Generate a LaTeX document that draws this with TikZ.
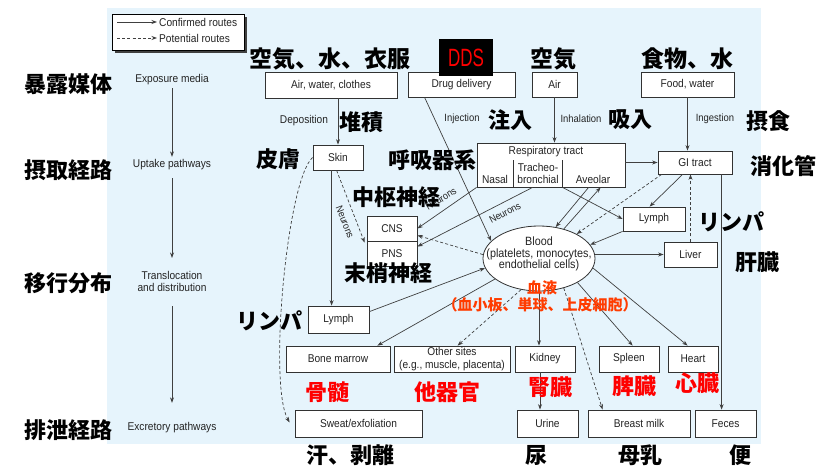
\documentclass[tikz,border=0pt]{standalone}
\usepackage{fontspec}
\setmainfont{Liberation Sans}
\newfontfamily\cond{Liberation Sans}[FakeStretch=0.9]
\newfontfamily\ddsf{Liberation Sans}[FakeStretch=0.68]
\newfontfamily\cjk{Noto Sans CJK JP}
\usetikzlibrary{arrows.meta,calc,shapes.geometric}
\definecolor{bgblue}{RGB}{230,244,252}
\definecolor{ln}{RGB}{64,64,64}
\definecolor{bx}{RGB}{50,50,50}
\definecolor{txt}{RGB}{35,35,35}
\definecolor{redj}{RGB}{255,0,0}
\definecolor{orj}{RGB}{255,60,0}
\tikzset{
  box/.style={draw=bx, line width=0.8pt, fill=white, inner sep=0pt, align=center,
    font=\cond\fontsize{11.3}{12}\selectfont, text=txt},
  lbl/.style={inner sep=0pt, align=center, font=\cond\fontsize{11.3}{12}\selectfont, text=txt},
  slbl/.style={lbl, font=\cond\fontsize{10.5}{11}\selectfont},
  neur/.style={inner sep=0pt, font=\cond\fontsize{10}{11}\selectfont, text=txt},
  jp/.style={inner sep=0pt, font=\cjk\bfseries\fontsize{22}{23}\selectfont, text=black},
  jptop/.style={jp, font=\cjk\bfseries\fontsize{23}{24}\selectfont},
  jpred/.style={jp, text=redj},
  jpblood/.style={inner sep=0pt, font=\cjk\bfseries\fontsize{15}{16}\selectfont, text=orj},
  conn/.style={draw=ln, line width=0.7pt, -{Stealth[length=5.5pt,width=4pt]}},
  pconn/.style={conn, dash pattern=on 3pt off 2.2pt},
  divline/.style={draw=bx, line width=0.8pt},
}
\begin{document}
\begin{tikzpicture}[x=1pt,y=-1pt]
\useasboundingbox (0,0) rectangle (836,466);
\fill[white] (0,0) rectangle (836,466);
\fill[bgblue] (107,8) rectangle (761,444);

% legend
\fill[black!75] (114.5,16.5) rectangle (246.5,52.5);
\node[draw=black, line width=1pt, fill=white, minimum width=132pt, minimum height=36pt, inner sep=0pt] (leg) at (178,32) {};
\coordinate (lga) at (117,22); \coordinate (lgb) at (157,22);
\coordinate (lgc) at (117,38); \coordinate (lgd) at (157,38);
\draw[conn] (lga) -- (lgb);
\draw[pconn] (lgc) -- (lgd);
\node[lbl, anchor=west] (lgt1) at (159,22) {Confirmed routes};
\node[lbl, anchor=west] (lgt2) at (159,38) {Potential routes};

% left column
\node[jp] (j1) at (68,84) {暴露媒体};
\node[jp] (j2) at (68,170) {摂取経路};
\node[jp] (j3) at (68,283) {移行分布};
\node[jp] (j4) at (68,430) {排泄経路};
\node[lbl] (expo) at (172,80) {Exposure media};
\node[lbl] (upt) at (172,165) {Uptake pathways};
\node[lbl] (trans) at (172,281) {Translocation\\and distribution};
\node[lbl] (excr) at (172,428) {Excretory pathways};
\draw[conn, shorten <=2.7pt, shorten >=2.7pt] (expo) -- (upt);
\draw[conn, shorten <=7.7pt, shorten >=12.7pt] (upt) -- (trans);
\draw[conn, shorten <=14.7pt, shorten >=19.7pt] (trans) -- (excr);

% boxes
\node[box, minimum width=132pt, minimum height=26pt] (acw) at (331,85) {Air, water, clothes};
\node[box, minimum width=107pt, minimum height=25pt] (drug) at (461.5,84.5) {Drug delivery};
\node[box, minimum width=45pt, minimum height=25pt] (air) at (554.5,84.5) {Air};
\node[box, minimum width=93pt, minimum height=25pt] (food) at (687.5,84.5) {Food, water};
\node[box, minimum width=50pt, minimum height=25pt] (skin) at (338,157.5) {Skin};
\node[box, minimum width=148pt, minimum height=44pt] (resp) at (551,165) {};
\node[box, minimum width=74pt, minimum height=23pt] (gi) at (695,162.5) {GI tract};
\node[box, minimum width=50pt, minimum height=25pt] (cns) at (392,228.5) {CNS};
\node[box, minimum width=50pt, minimum height=25pt] (pns) at (392,253.5) {PNS};
\node[box, minimum width=62pt, minimum height=24pt] (lymU) at (654,219) {Lymph};
\node[box, minimum width=53pt, minimum height=25pt] (liver) at (690.5,254.5) {Liver};
\node[ellipse, draw=bx, line width=0.8pt, fill=white, minimum width=112pt, minimum height=65pt, inner sep=0pt] (blood) at (539,258.5) {};
\node[lbl, font=\cond\fontsize{12}{11.5}\selectfont] (bloodtxt) at (539,254) {Blood\\(platelets, monocytes,\\endothelial cells)};
\node[box, minimum width=61pt, minimum height=27pt] (lymL) at (338.5,319.5) {Lymph};
\node[box, minimum width=104pt, minimum height=26pt] (bm) at (338,359) {Bone marrow};
\node[box, minimum width=116pt, minimum height=26pt, font=\cond\fontsize{11.3}{12.5}\selectfont] (oth) at (452,359) {Other sites\\(e.g., muscle, placenta)};
\node[box, minimum width=60pt, minimum height=26pt] (kid) at (545,359) {Kidney};
\node[box, minimum width=60pt, minimum height=26pt] (spl) at (629,359) {Spleen};
\node[box, minimum width=50pt, minimum height=26pt] (hrt) at (693,359) {Heart};
\node[box, minimum width=127pt, minimum height=27pt] (swt) at (358.5,423.5) {Sweat/exfoliation};
\node[box, minimum width=61pt, minimum height=27pt] (uri) at (547.5,423.5) {Urine};
\node[box, minimum width=102pt, minimum height=27pt] (bmk) at (639,423.5) {Breast milk};
\node[box, minimum width=61pt, minimum height=27pt] (fec) at (725.5,423.5) {Feces};

% respiratory tract internals
\node[lbl] (rt) at (546,152) {Respiratory tract};
\coordinate (rd1) at ($(resp.south west)+(37,0)$);
\coordinate (rd2) at ($(resp.south west)+(86,0)$);
\draw[divline] (rd1) -- ($(rd1)+(0,-27)$);
\draw[divline] (rd2) -- ($(rd2)+(0,-27)$);
\node[lbl] (nas) at (495,179) {Nasal};
\node[lbl] (tra) at (538,173) {Tracheo-\\bronchial};
\node[lbl] (ave) at (593,179) {Aveolar};

% DDS tag
\node[fill=black, minimum width=54pt, minimum height=37pt, inner sep=0pt] (ddsbox) at (466,57.5) {};
\node[inner sep=0pt, text=redj, font=\ddsf\fontsize{25}{26}\selectfont] (dds) at (466,58) {DDS};

% route labels
\node[lbl] (dep) at (304,121) {Deposition};
\node[slbl] (inj) at (462,119) {Injection};
\node[slbl] (inh) at (581,119) {Inhalation};
\node[slbl] (ing) at (715,119) {Ingestion};
\node[neur, rotate=-69] (n1) at (345,222) {Neurons};
\node[neur, rotate=32] (n2) at (441,199) {Neurons};
\node[neur, rotate=28] (n3) at (505,213) {Neurons};

% connectors
\draw[conn] (acw.south -| skin.north) -- (skin.north);
\coordinate (d0) at ($(drug.south west)+(17,0)$);
\draw[conn] (d0) -- (blood.160);
\draw[conn] (air.south) -- (air.south |- resp.north);
\draw[conn] (food.south) -- (food.south |- gi.north);
\draw[conn] (gi.west -| resp.east) -- (gi.west);
\coordinate (g1) at ($(gi.south west)+(25,0)$);
\coordinate (l1) at ($(lymU.north west)+(27,0)$);
\draw[conn] (g1) -- (l1);
\coordinate (g2) at ($(gi.south west)+(4,0)$);
\draw[pconn] (g2) -- (blood.33);
\draw[pconn] (liver.north) -- (liver.north |- gi.south);
\draw[conn] (lymU.south west) -- (blood.15);
\draw[conn] (liver.west -| blood.east) -- (liver.west);
\draw[conn] (rd2) -- (lymU.west);
\coordinate (r2) at ($(resp.south west)+(112,0)$);
\draw[conn] (r2) -- (blood.62);
\coordinate (r3) at ($(resp.south west)+(124,0)$);
\draw[conn] (blood.50) -- (r3);
\draw[conn] (resp.south west) -- (cns.east);
\coordinate (r4) at ($(resp.south west)+(56,0)$);
\coordinate (p1) at ($(pns.north east)+(0,6)$);
\draw[conn] (r4) -- (p1);
\coordinate (c1) at ($(cns.south east)+(0,-6)$);
\draw[pconn] (blood.176) -- (c1);
\coordinate (ll1) at ($(lymL.north east)+(0,6)$);
\draw[conn] (ll1) -- (blood.190);
\coordinate (bm1) at ($(bm.north east)+(-13,0)$);
\draw[conn] (blood.205) -- (bm1);
\coordinate (o1) at ($(oth.north west)+(64,0)$);
\draw[pconn] (blood.240) -- (o1);
\draw[conn] (blood.south) -- (blood.south |- kid.north);
\coordinate (bk1) at ($(bmk.north west)+(15,0)$);
\draw[pconn] (blood.310) -- (bk1);
\coordinate (s1) at ($(spl.north west)+(34,0)$);
\draw[conn] (blood.328) -- (s1);
\coordinate (h1) at ($(hrt.north west)+(20,0)$);
\draw[conn] (blood.350) -- (h1);
\coordinate (k1) at ($(kid.south)+(-5,0)$);
\draw[conn] (k1) -- (k1 |- uri.north);
\coordinate (gf) at ($(gi.south west)+(64,0)$);
\draw[conn] (gf) -- (gf |- fec.north);
\coordinate (sk1) at ($(skin.south west)+(24,0)$);
\coordinate (p2) at ($(pns.north west)+(-2,2)$);
\draw[pconn] (sk1) -- (p2);
\coordinate (sk2) at ($(skin.south west)+(19,0)$);
\draw[conn] (sk2) -- (sk2 |- lymL.north);
\coordinate (sw1) at ($(swt.west)+(-5,-1)$);
\draw[pconn] (skin.west) .. controls (287,180) and (268,385) .. (sw1);

% Japanese labels
\node[jptop] (jt1) at (330,59) {空気、水、衣服};
\node[jptop] (jt2) at (553,59) {空気};
\node[jptop] (jt3) at (687,59) {食物、水};
\node[jp] (jdep) at (361,122) {堆積};
\node[jp] (jinj) at (510,120) {注入};
\node[jp] (jinh) at (630,120) {吸入};
\node[jp] (jing) at (768,121) {摂食};
\node[jp] (jskin) at (278,159) {皮膚};
\node[jp] (jresp) at (432,160) {呼吸器系};
\node[jp] (jgi) at (783,166) {消化管};
\node[jp] (jcns) at (396,197) {中枢神経};
\node[jp] (jlymU) at (731,222) {リンパ};
\node[jp] (jliv) at (757,262) {肝臓};
\node[jp] (jpns) at (388,273) {末梢神経};
\node[jp] (jlymL) at (269,321) {リンパ};
\node[jpblood] (jbl1) at (542,288) {血液};
\node[jpblood] (jbl2) at (540,305) {（血小板、単球、上皮細胞）};
\node[jpred] (jbm) at (327,392) {骨髄};
\node[jpred] (joth) at (447,392) {他器官};
\node[jpred] (jkid) at (550,387) {腎臓};
\node[jpred] (jspl) at (634,386) {脾臓};
\node[jpred] (jhrt) at (697,383) {心臓};
\node[jp] (jswt) at (350,455) {汗、剥離};
\node[jp] (juri) at (536,455) {尿};
\node[jp] (jbmk) at (640,455) {母乳};
\node[jp] (jfec) at (740,455) {便};
\end{tikzpicture}
\end{document}
